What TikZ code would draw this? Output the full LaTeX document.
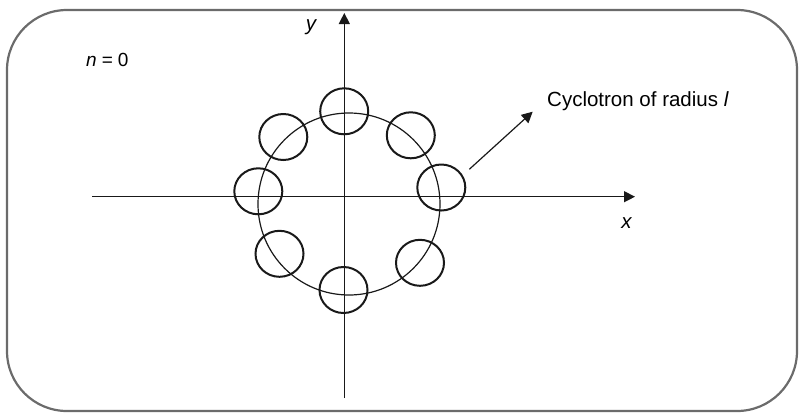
\documentclass[tikz,border=0pt]{standalone}
\usepackage{fontspec}
\setmainfont{Liberation Sans}
\usetikzlibrary{arrows.meta}
\begin{document}
\begin{tikzpicture}[x=1pt,y=-1pt,
  frame/.style={draw=black!58,line width=2.2pt,rounded corners=60pt},
  axis/.style={draw=black!90,line width=1.3pt,-{Triangle[length=11pt,width=11pt]}},
  ring/.style={draw=black!90,line width=1.2pt},
  lbl/.style={font=\fontsize{20.5}{24}\selectfont,inner sep=0pt}]
\useasboundingbox (0,0) rectangle (805,413);
\draw[frame] (7,10) rectangle (797,411);
% axes
\coordinate (xl) at (92,196.7);
\coordinate (xr) at (635,196.7);
\coordinate (yb) at (344.3,398);
\coordinate (yt) at (344.3,13);
\draw[axis] (xl) -- (xr);
\draw[axis] (yb) -- (yt);
% big circle
\node[ring,circle,minimum size=182pt,inner sep=0pt] (big) at (349,204) {};
% small circles
\foreach \n/\cx/\cy in {c1/344.2/111.3, c2/410.8/135.3, c3/441.3/187.5, c4/420/262.8,
  c5/343.5/290, c6/279.5/253.8, c7/258.3/191.3, c8/283.3/137}
  \draw[line width=2pt,draw=black!90] (\cx,\cy) ellipse [x radius=24pt,y radius=23pt];
% labels
\node[lbl,anchor=base] (ylab) at (311.5,30) {\textit{y}};
\node[lbl,anchor=base] (xlab) at (626.7,228) {\textit{x}};
\node[lbl,anchor=base west,font=\fontsize{19}{22}\selectfont] (nlab) at (86,66.5) {\textit{n}\hspace{5pt}=\hspace{5pt}0};
\node[lbl,anchor=base west] (cyc) at (547,106) {Cyclotron of radius \textit{l}};
% arrow
\coordinate (as) at (469.3,169.3);
\coordinate (ae) at (532.7,111.7);
\draw[line width=1.2pt,draw=black!90,-{Triangle[length=11pt,width=11pt]}] (as) -- (ae);
\end{tikzpicture}
\end{document}
